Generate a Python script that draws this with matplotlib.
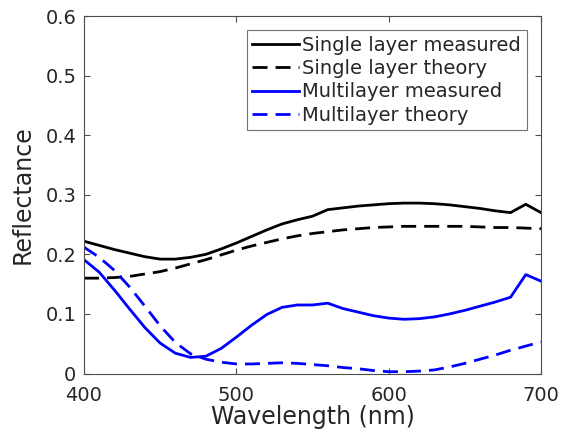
import matplotlib
matplotlib.use("Agg")
import matplotlib.pyplot as plt
import numpy as np

wavelength = np.arange(400, 701, 10)

single_measured = [0.222, 0.215, 0.208, 0.202, 0.196, 0.192, 0.192, 0.195, 0.200, 0.209,
                   0.219, 0.230, 0.241, 0.251, 0.258, 0.264, 0.275, 0.278, 0.281, 0.283,
                   0.285, 0.286, 0.286, 0.285, 0.283, 0.280, 0.277, 0.273, 0.270, 0.284, 0.270]
single_theory = [0.160, 0.160, 0.161, 0.163, 0.167, 0.171, 0.177, 0.184, 0.191, 0.199,
                 0.207, 0.214, 0.220, 0.226, 0.231, 0.235, 0.238, 0.241, 0.243, 0.245,
                 0.246, 0.247, 0.247, 0.247, 0.247, 0.247, 0.246, 0.245, 0.245, 0.244, 0.243]
multi_measured = [0.191, 0.170, 0.140, 0.108, 0.077, 0.051, 0.034, 0.027, 0.029, 0.042,
                  0.061, 0.081, 0.099, 0.111, 0.115, 0.115, 0.118, 0.109, 0.103, 0.097,
                  0.093, 0.091, 0.092, 0.095, 0.100, 0.106, 0.113, 0.120, 0.128, 0.166, 0.155]
multi_theory = [0.212, 0.195, 0.173, 0.145, 0.113, 0.080, 0.052, 0.033, 0.024, 0.019,
                0.016, 0.016, 0.017, 0.018, 0.017, 0.015, 0.013, 0.010, 0.008, 0.005,
                0.003, 0.003, 0.004, 0.006, 0.011, 0.017, 0.024, 0.031, 0.039, 0.046, 0.053]

labels = ["Single layer measured", "Single layer theory",
          "Multilayer measured", "Multilayer theory"]
xticks = [400, 500, 600, 700]
yticks = [0, 0.1, 0.2, 0.3, 0.4, 0.5, 0.6]
ytick_labels = ["0", "0.1", "0.2", "0.3", "0.4", "0.5", "0.6"]

fig = plt.figure(figsize=(5.61, 4.36), dpi=100)
ax = fig.add_axes([84/561, 1-373.5/436, (541-84)/561, (373.5-16)/436])

lw = 2.0
dash = (0, (5.4, 2.9))
ax.plot(wavelength, single_measured, color="black", lw=lw, ls="-", label=labels[0])
ax.plot(wavelength, single_theory, color="black", lw=lw, ls=dash, label=labels[1])
ax.plot(wavelength, multi_measured, color="#0000ff", lw=lw, ls="-", label=labels[2])
ax.plot(wavelength, multi_theory, color="#0000ff", lw=lw, ls=dash, label=labels[3])

ax.set_xlim(400, 700)
ax.set_ylim(0, 0.6)
ax.set_xticks(xticks)
ax.set_xticklabels([str(v) for v in xticks])
ax.set_yticks(yticks)
ax.set_yticklabels(ytick_labels)

txtc = "#262626"
spc = "#4d4d4d"
for s in ax.spines.values():
    s.set_color(spc)
    s.set_linewidth(0.8)
ax.tick_params(direction="in", top=True, right=True, length=4, width=0.8,
               colors=spc, labelcolor=txtc, labelsize=14)
ax.tick_params(axis="x", pad=9)
ax.tick_params(axis="y", pad=5.5)
ax.set_xlabel("Wavelength (nm)", fontsize=17, color=txtc, labelpad=0)
ax.set_ylabel("Reflectance", fontsize=17, color=txtc, labelpad=8)

leg = ax.legend(loc="upper right", bbox_to_anchor=((527-84)/457, (373.5-30)/357.5),
                fontsize=14, frameon=True, fancybox=False, handlelength=2.37,
                handletextpad=0.2, borderpad=0.3, labelspacing=0.22, borderaxespad=0)
leg.get_frame().set_edgecolor(spc)
leg.get_frame().set_linewidth(0.8)
for t in leg.get_texts():
    t.set_color(txtc)

fig.savefig("out.png", dpi=100)
